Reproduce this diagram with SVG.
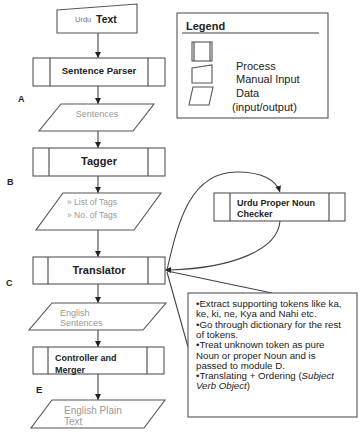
<svg xmlns="http://www.w3.org/2000/svg" width="359" height="433" viewBox="0 0 359 433">
<style>
.s{fill:#fff;stroke:#555;stroke-width:1.1}
.ln{fill:none;stroke:#444;stroke-width:1.1}
.t{font-family:"Liberation Sans",Arial,sans-serif;fill:#222}
.b{font-weight:bold}
.g{fill:#999}
</style>
<defs>
<marker id="ah" markerUnits="userSpaceOnUse" markerWidth="7" markerHeight="7" refX="6" refY="3" orient="auto">
<path d="M0,0 L6,3 L0,6 z" fill="#222"/>
</marker>
</defs>
<rect width="359" height="433" fill="#fff"/>

<g id="connectors">
<line class="ln" x1="98" y1="33" x2="98" y2="58" marker-end="url(#ah)"/>
<line class="ln" x1="98" y1="86" x2="98" y2="104" marker-end="url(#ah)"/>
<line class="ln" x1="98" y1="131" x2="98" y2="148" marker-end="url(#ah)"/>
<line class="ln" x1="98" y1="176" x2="98" y2="193" marker-end="url(#ah)"/>
<line class="ln" x1="98" y1="230" x2="98" y2="257" marker-end="url(#ah)"/>
<line class="ln" x1="98" y1="284" x2="98" y2="303" marker-end="url(#ah)"/>
<line class="ln" x1="98" y1="330" x2="98" y2="347" marker-end="url(#ah)"/>
<line class="ln" x1="98" y1="374" x2="98" y2="400" marker-end="url(#ah)"/>
<path class="ln" d="M167,270 C178,222 190,172 237,172 C262,172 276,180 280,192" marker-end="url(#ah)"/>
<path class="ln" d="M280,221 C278,250 232,268 170,270 L165,270" marker-end="url(#ah)"/>
<line class="ln" x1="167" y1="271" x2="272" y2="293"/>
<line class="ln" x1="167" y1="272" x2="188" y2="347"/>
</g>

<g id="urdu-text">
<path class="s" d="M57,10 L137,4 L137,33 L57,33 Z"/>
<text class="t" x="75" y="22" font-size="7.5" style="fill:#777">Urdu</text>
<text class="t b" x="96" y="23" font-size="10.5">Text</text>
</g>

<g id="sentence-parser">
<rect class="s" x="33" y="58" width="132" height="28"/>
<line class="ln" x1="50" y1="58" x2="50" y2="86"/>
<line class="ln" x1="148" y1="58" x2="148" y2="86"/>
<text class="t b" x="99" y="74" font-size="9.5" text-anchor="middle">Sentence Parser</text>
</g>
<text class="t b" x="18" y="102" font-size="9">A</text>

<g id="sentences">
<path class="s" d="M61,104 L154,104 L133,131 L39,131 Z"/>
<text class="t g" x="97" y="117" font-size="9" text-anchor="middle">Sentences</text>
</g>

<g id="tagger">
<rect class="s" x="33" y="148" width="132" height="28"/>
<line class="ln" x1="49" y1="148" x2="49" y2="176"/>
<line class="ln" x1="148" y1="148" x2="148" y2="176"/>
<text class="t b" x="99" y="165" font-size="11" text-anchor="middle">Tagger</text>
</g>
<text class="t b" x="7" y="185" font-size="9">B</text>

<g id="list-of-tags">
<path class="s" d="M63,193 L161,193 L134,230 L36,230 Z"/>
<text class="t g" x="67" y="205" font-size="8.5">» List of Tags</text>
<text class="t g" x="67" y="218" font-size="8.5">» No. of Tags</text>
</g>

<g id="translator">
<rect class="s" x="33" y="257" width="132" height="27"/>
<line class="ln" x1="48" y1="257" x2="48" y2="284"/>
<line class="ln" x1="148" y1="257" x2="148" y2="284"/>
<text class="t b" x="99" y="274" font-size="11" text-anchor="middle">Translator</text>
</g>
<text class="t b" x="6" y="286" font-size="9">C</text>

<g id="english-sentences">
<path class="s" d="M52,303 L166,303 L143,330 L29,330 Z"/>
<text class="t g" x="60" y="316" font-size="9">English</text>
<text class="t g" x="60" y="326" font-size="9">Sentences</text>
</g>

<g id="controller-merger">
<rect class="s" x="33" y="347" width="131" height="27"/>
<line class="ln" x1="48" y1="347" x2="48" y2="374"/>
<line class="ln" x1="147" y1="347" x2="147" y2="374"/>
<text class="t b" x="55" y="361" font-size="9">Controller and</text>
<text class="t b" x="55" y="373" font-size="9">Merger</text>
</g>
<text class="t b" x="36" y="393" font-size="9.5">E</text>

<g id="english-plain-text">
<path class="s" d="M52,400 L165,400 L144,428 L31,428 Z"/>
<text class="t g" x="64" y="413.5" font-size="10">English Plain</text>
<text class="t g" x="64" y="425" font-size="10">Text</text>
</g>

<g id="urdu-proper-noun-checker">
<rect class="s" x="214" y="193" width="131" height="28"/>
<line class="ln" x1="230" y1="193" x2="230" y2="221"/>
<line class="ln" x1="329" y1="193" x2="329" y2="221"/>
<text class="t b" x="237" y="206" font-size="9">Urdu Proper Noun</text>
<text class="t b" x="237" y="217" font-size="9">Checker</text>
</g>

<g id="note">
<rect class="s" x="188" y="293" width="169" height="124"/>
<g class="t" font-size="9.7">
<text x="196" y="307">•Extract supporting tokens like ka,</text>
<text x="196" y="317.3">ke, ki, ne, Kya and Nahi etc.</text>
<text x="196" y="327.6">•Go through dictionary for the rest</text>
<text x="196" y="337.9">of tokens.</text>
<text x="196" y="348.2">•Treat unknown token as pure</text>
<text x="196" y="358.5">Noun or proper Noun and is</text>
<text x="196" y="368.8">passed to module D.</text>
<text x="196" y="379.1">•Translating + Ordering (<tspan font-style="italic">Subject</tspan></text>
<text x="196" y="389.4"><tspan font-style="italic">Verb Object</tspan>)</text>
</g>
</g>

<g id="legend">
<rect class="s" x="177" y="13" width="151" height="105"/>
<text class="t b" x="186" y="30" font-size="11">Legend</text>
<line class="ln" x1="182" y1="33" x2="319" y2="33"/>
<rect class="s" x="192" y="42" width="20" height="19"/>
<line class="ln" x1="194" y1="42" x2="194" y2="61"/>
<line class="ln" x1="210" y1="42" x2="210" y2="61"/>
<path class="s" d="M192,68 L212,65 L212,83 L192,83 Z"/>
<path class="s" d="M193,87 L213,87 L209,105 L189,105 Z"/>
<g class="t" font-size="11">
<text x="236" y="70">Process</text>
<text x="236" y="83">Manual Input</text>
<text x="236" y="97">Data</text>
<text x="232" y="111">(input/output)</text>
</g>
</g>
</svg>
